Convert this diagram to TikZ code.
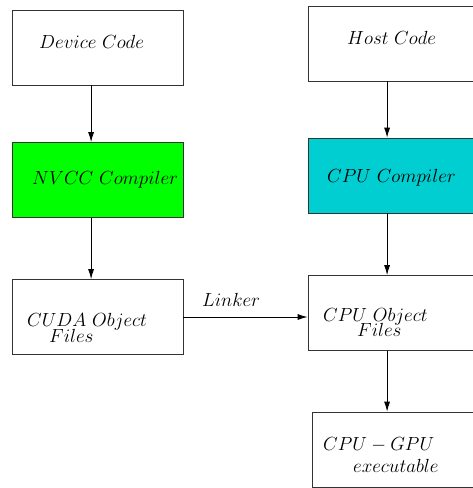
\RequirePackage{fix-cm}
\documentclass[tikz,border=0pt]{standalone}
\usetikzlibrary{arrows.meta}
\definecolor{nvgreen}{RGB}{0,255,0}
\definecolor{cpucyan}{RGB}{0,206,209}
\begin{document}
\begin{tikzpicture}[x=1pt,y=-1pt,
  box/.style={draw=black!80,line width=0.8pt,rectangle,minimum width=171pt,minimum height=75pt,inner sep=0pt},
  lbl/.style={anchor=base west,inner sep=0pt,font=\fontsize{19}{23}\selectfont},
  arr/.style={line width=0.8pt,-{Latex[length=10pt,width=6pt]}}]
\useasboundingbox (0,0) rectangle (472,488);
% boxes
\node[box] (dev) at (97.5,47.5) {};
\node[box,fill=nvgreen] (nvcc) at (97.5,180) {};
\node[box] (cuda) at (97.5,317) {};
\node[box] (host) at (393.5,43.5) {};
\node[box,fill=cpucyan] (cpuc) at (393.5,175.5) {};
\node[box] (cpuo) at (393.5,313) {};
\node[box] (exe) at (397.5,449.5) {};
% texts
\node[lbl] (t1) at (39,48) {$Device\ Code$};
\node[lbl] (t2) at (32,184) {$NVCC\ Compiler$};
\node[lbl] (t3) at (27,326) {$CUDA\ Object$};
\node[lbl] (t4) at (49,342) {$Files$};
\node[lbl] (t5) at (202,306) {$Linker$};
\node[lbl] (t6) at (347,44) {$Host\ Code$};
\node[lbl] (t7) at (327,182) {$CPU\ Compiler$};
\node[lbl] (t8) at (323,321) {$CPU\ Object$};
\node[lbl] (t9) at (357,336) {$Files$};
\node[lbl] (t10) at (323,450) {$CPU-GPU$};
\node[lbl] (t11) at (353,472) {$executable$};
% arrows
\draw[arr] ([xshift=79.5pt]dev.south west) -- ([xshift=79.5pt]nvcc.north west);
\draw[arr] ([xshift=79.5pt]nvcc.south west) -- ([xshift=79.5pt]cuda.north west);
\draw[arr] ([xshift=79.5pt]host.south west) -- ([xshift=79.5pt]cpuc.north west);
\draw[arr] ([xshift=79.5pt]cpuc.south west) -- ([xshift=79.5pt]cpuo.north west);
\draw[arr] ([xshift=79.5pt]cpuo.south west) -- ([xshift=75.5pt]exe.north west);
\draw[arr] (cuda.east) -- (cuda.east -| cpuo.west);
\end{tikzpicture}
\end{document}
